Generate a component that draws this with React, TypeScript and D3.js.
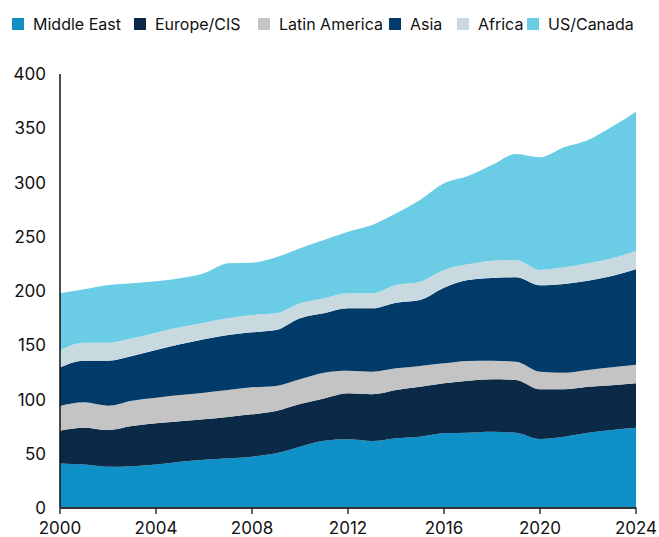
import React from "react";
import * as d3 from "d3";

const years = d3.range(2000, 2025);
const seriesNames = ["Middle East", "Europe/CIS", "Latin America", "Asia", "Africa", "US/Canada"];
const middleEast = [41, 40, 38, 38.5, 40, 42.7, 44.5, 45.8, 47.3, 50.4, 56.5, 62, 63.3, 61.7, 64.2, 65.7, 68.8, 69.4, 70.3, 69.4, 63.6, 65.7, 69.4, 71.9, 74];
const europeCIS = [30.3, 34, 33.9, 37.1, 38, 37.2, 37.2, 38.1, 39, 39, 39.3, 39, 42.4, 43.1, 44.6, 46.1, 46.1, 47.9, 48.3, 48.6, 45.8, 43.7, 42.4, 41.2, 40.9];
const latinAmerica = [22.7, 23.4, 22.4, 23.3, 23.7, 24.2, 24.6, 24.9, 24.9, 23, 22.8, 23.7, 20.8, 20.8, 19.9, 19.1, 18.4, 18.2, 17.2, 16.8, 16.2, 15.3, 15.4, 16.6, 17.2];
const asia = [35.7, 38.4, 41.5, 41.2, 43.9, 46.8, 49.2, 50.6, 50.7, 51.6, 56.2, 54.7, 57.5, 58.4, 60.5, 60.8, 69.7, 74.6, 76.2, 77.8, 79.6, 81.8, 82.3, 84.1, 87.9];
const africa = [15.9, 16.6, 16.6, 16.3, 16, 15.6, 15.3, 15.4, 16, 15.4, 13.9, 13.9, 13.9, 13.9, 16.3, 16.9, 16.4, 14.5, 15.9, 16, 14.2, 15.3, 16, 16.3, 16.9];
const usCanada = [52.3, 49.2, 53.1, 50.7, 47.3, 45.2, 45.5, 50.7, 48.2, 51.6, 50.7, 53.7, 56.8, 62.9, 66.1, 75.3, 79.8, 81.4, 88.2, 97.7, 103.8, 110.6, 113.7, 121.3, 128.4];
const yTicks = [0, 50, 100, 150, 200, 250, 300, 350, 400];
const xTicks = [2000, 2004, 2008, 2012, 2016, 2020, 2024];

const colors = ["#0f90c6", "#0a2a47", "#c4c4c4", "#013b69", "#c8d9e0", "#6acde5"];
const legendX = [12, 134, 258, 389, 457, 527];

export default function App() {
  const W = 659, H = 537;
  const x = d3.scaleLinear().domain([2000, 2024]).range([60, 636]);
  const y = d3.scaleLinear().domain([0, 400]).range([508, 74]);
  const allSeries = [middleEast, europeCIS, latinAmerica, asia, africa, usCanada];
  const table = years.map((yr, i) => {
    const row: any = { year: yr };
    seriesNames.forEach((n, k) => (row[n] = allSeries[k][i]));
    return row;
  });
  const stacked = d3.stack().keys(seriesNames)(table);
  const area = d3
    .area<any>()
    .x((d) => x(d.data.year))
    .y0((d) => y(d[0]))
    .y1((d) => y(d[1]))
    .curve(d3.curveMonotoneX);
  const font = "Inter, 'Liberation Sans', sans-serif";
  return (
    <svg width={W} height={H} style={{ position: "absolute", left: 0, top: 0 }} fontFamily={font}>
      <rect width={W} height={H} fill="#fff" />
      {stacked.map((s, k) => (
        <path key={k} d={area(s as any) || ""} fill={colors[k]} />
      ))}
      <line x1={60} x2={60} y1={74} y2={508} stroke="#111" strokeWidth={1.5} />
      <line x1={60} x2={636.5} y1={508} y2={508} stroke="#333" strokeWidth={2} />
      {xTicks.map((t) => (
        <g key={t}>
          <line x1={x(t)} x2={x(t)} y1={508} y2={514} stroke="#333" strokeWidth={1.5} />
          <text x={x(t)} y={534} textAnchor="middle" fontSize={17} fill="#111">
            {t}
          </text>
        </g>
      ))}
      {yTicks.map((t) => (
        <text key={t} x={46} y={y(t)} dy="0.36em" textAnchor="end" fontSize={17} fill="#111">
          {t}
        </text>
      ))}
      {seriesNames.map((n, k) => (
        <g key={n}>
          <rect x={legendX[k]} y={18} width={12} height={12} fill={colors[k]} />
          <text x={legendX[k] + 21} y={30} fontSize={16} fill="#111">
            {n}
          </text>
        </g>
      ))}
    </svg>
  );
}
